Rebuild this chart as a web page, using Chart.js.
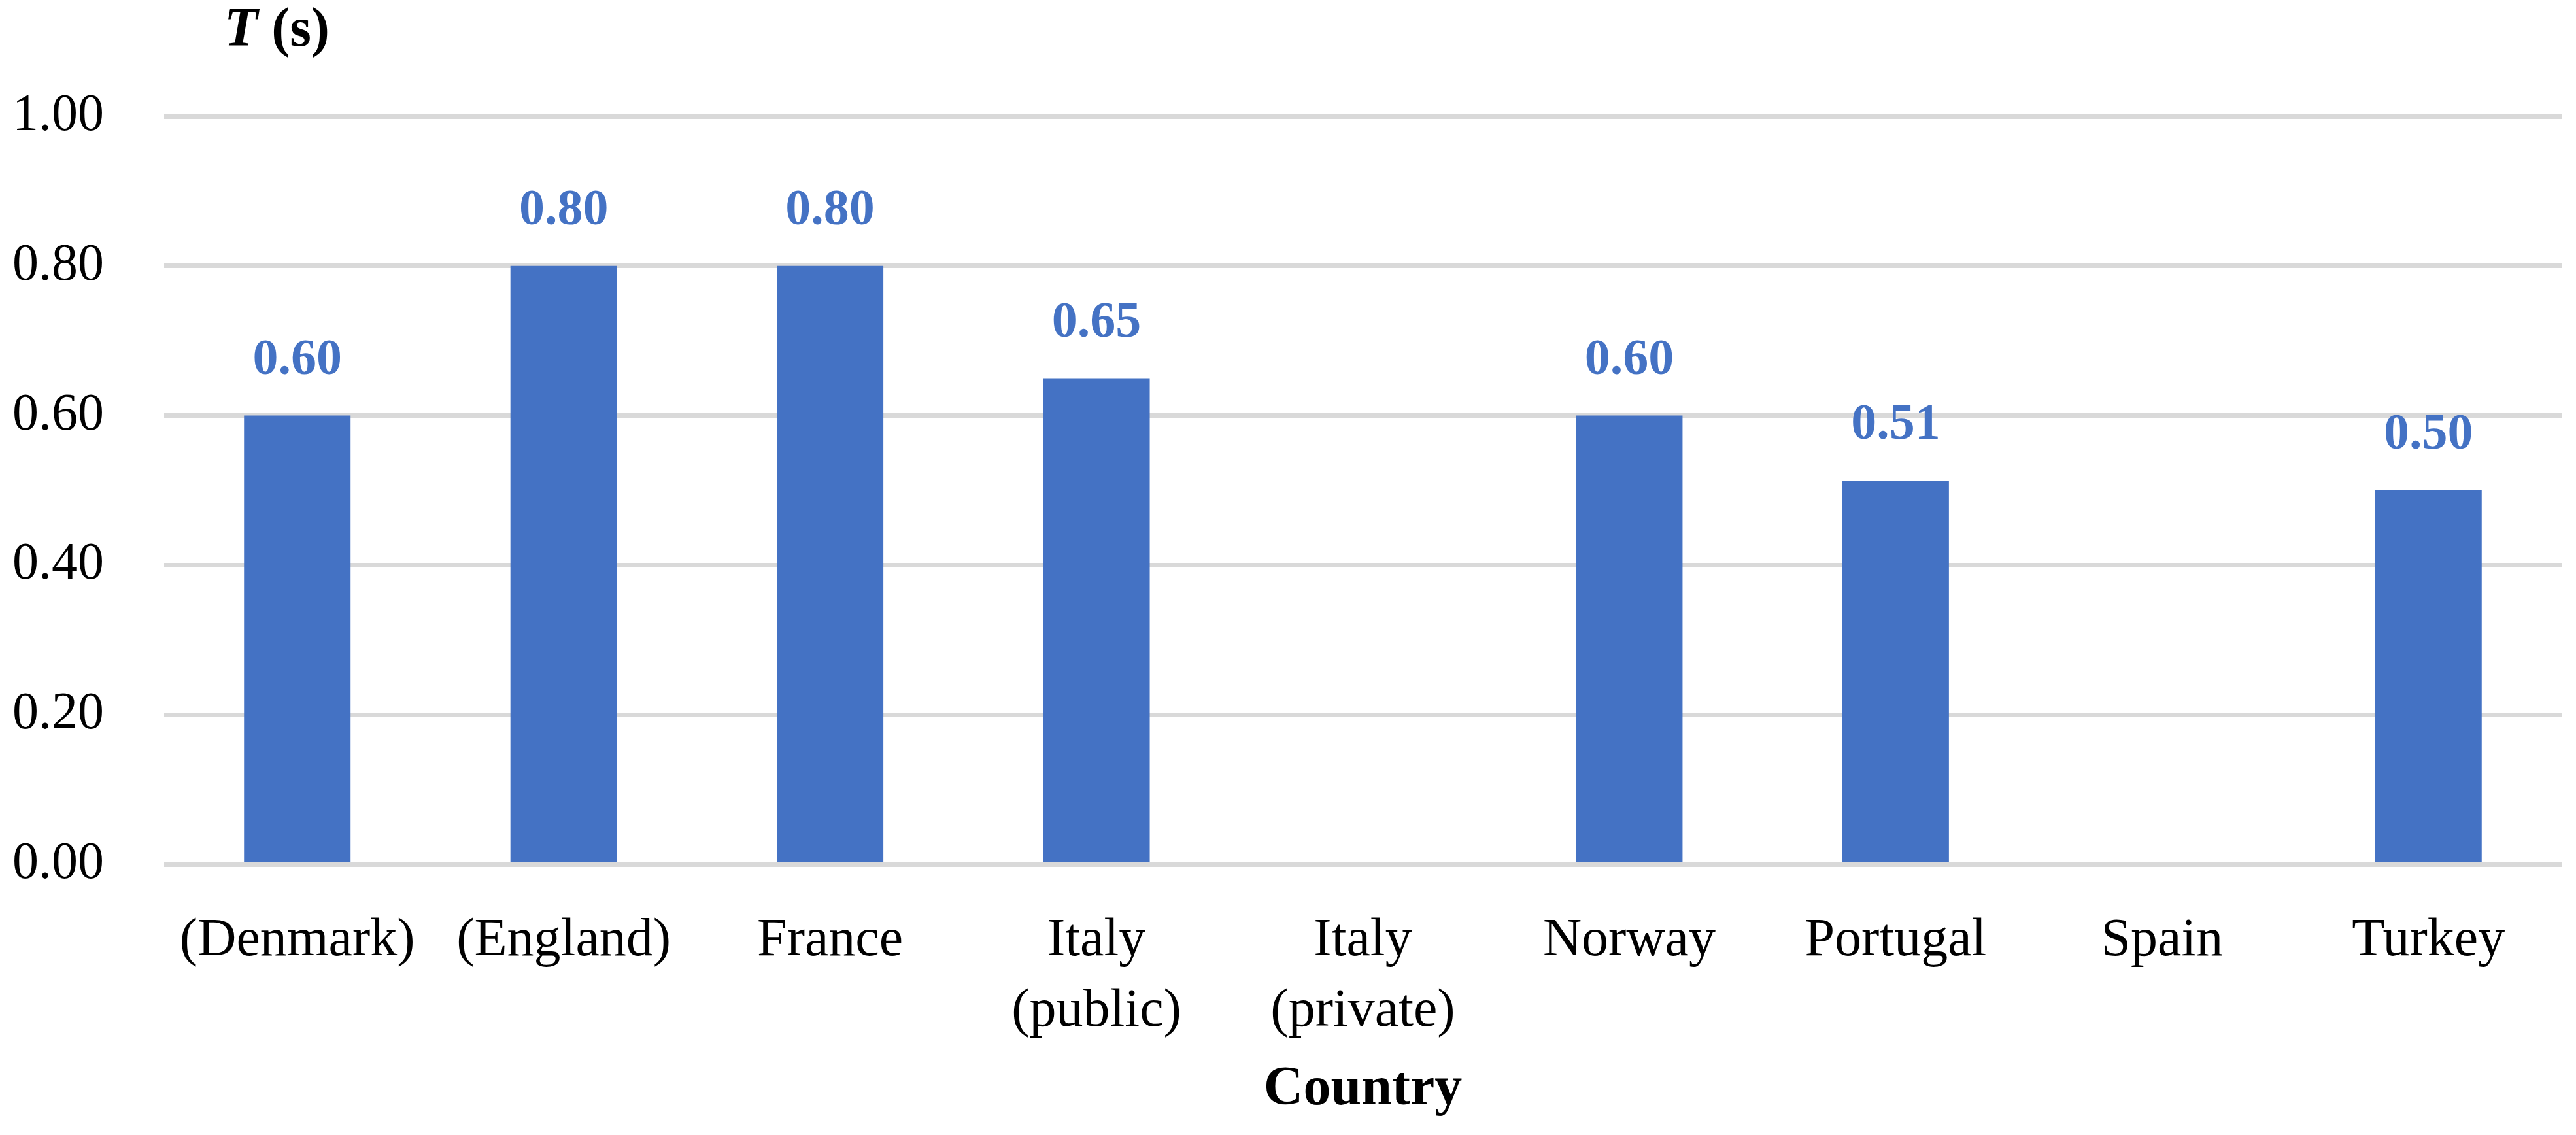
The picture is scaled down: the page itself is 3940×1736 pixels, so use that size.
<!DOCTYPE html>
<html>
<head>
<meta charset="utf-8">
<script src="https://cdn.jsdelivr.net/npm/chart.js@4/dist/chart.umd.min.js"></script>
<style>
  html, body { margin: 0; padding: 0; background: #fff; }
  #wrap { width: 3940px; height: 1736px; }
</style>
</head>
<body>
<div id="wrap"><canvas id="barChart" width="3940" height="1736"></canvas></div>
<script>
// data
const countries = [
    '(Denmark)', '(England)', 'France', ['Italy', '(public)'], ['Italy', '(private)'],
    'Norway', 'Portugal', 'Spain', 'Turkey'
];
const periods = [0.60, 0.80, 0.80, 0.65, null, 0.60, 0.513, null, 0.50];
const yTicks = [0, 0.2, 0.4, 0.6, 0.8, 1.0];

const blue = '#4472C4';
const serif = "'Liberation Serif', 'DejaVu Serif', serif";

// value labels above each bar
const valueLabels = {
    id: 'valueLabels',
    afterDatasetsDraw(chart) {
        const ctx = chart.ctx;
        const meta = chart.getDatasetMeta(0);
        ctx.save();
        ctx.fillStyle = blue;
        ctx.font = 'bold 78px ' + serif;
        ctx.textAlign = 'center';
        ctx.textBaseline = 'middle';
        meta.data.forEach((bar, i) => {
            const v = periods[i];
            if (v === null) return;
            ctx.fillText(v.toFixed(2), bar.x, bar.y - 84);
        });
        ctx.restore();
    }
};

// y axis title "T (s)" with italic T
const yTitle = {
    id: 'yTitle',
    afterDraw(chart) {
        const ctx = chart.ctx;
        const x = chart.chartArea.left + 92;
        ctx.save();
        ctx.fillStyle = '#000';
        ctx.textBaseline = 'middle';
        ctx.textAlign = 'left';
        ctx.font = 'italic bold 84px ' + serif;
        ctx.fillText('T', x, 48);
        const w = ctx.measureText('T').width;
        ctx.font = 'bold 84px ' + serif;
        ctx.fillText(' (s)', x + w, 48);
        ctx.restore();
    }
};

const ctxBar = document.getElementById('barChart').getContext('2d');
const barChart = new Chart(ctxBar, {
    type: 'bar',
    data: {
        labels: countries,
        datasets: [{
            label: 'T (s)',
            data: periods,
            backgroundColor: blue,
            borderWidth: 0,
            barPercentage: 0.4,
            categoryPercentage: 1.0
        }]
    },
    options: {
        responsive: false,
        animation: false,
        layout: {
            padding: { top: 178, right: 22, bottom: 0, left: 0 }
        },
        plugins: {
            legend: { display: false },
            tooltip: { enabled: false }
        },
        scales: {
            x: {
                grid: { display: false },
                border: { display: false },
                ticks: {
                    color: '#000',
                    padding: 55,
                    maxRotation: 0,
                    autoSkip: false,
                    font: { family: serif, size: 82, lineHeight: 1.32 }
                },
                title: {
                    display: true,
                    text: 'Country',
                    color: '#000',
                    padding: { top: 0, bottom: 18 },
                    font: { family: serif, size: 84, weight: 'bold', lineHeight: 1.2 }
                },
                afterFit(scale) { scale.height = 414; }
            },
            y: {
                min: 0,
                max: 1,
                afterBuildTicks(scale) {
                    scale.ticks = yTicks.map(v => ({ value: v }));
                },
                grid: {
                    color: '#D9D9D9',
                    lineWidth: 7,
                    drawTicks: false
                },
                border: { display: false },
                ticks: {
                    color: '#000',
                    padding: 92,
                    font: { family: serif, size: 80 },
                    callback: v => Number(v).toFixed(2)
                },
                afterFit(scale) { scale.width = 251; }
            }
        }
    },
    plugins: [valueLabels, yTitle]
});
</script>
</body>
</html>
